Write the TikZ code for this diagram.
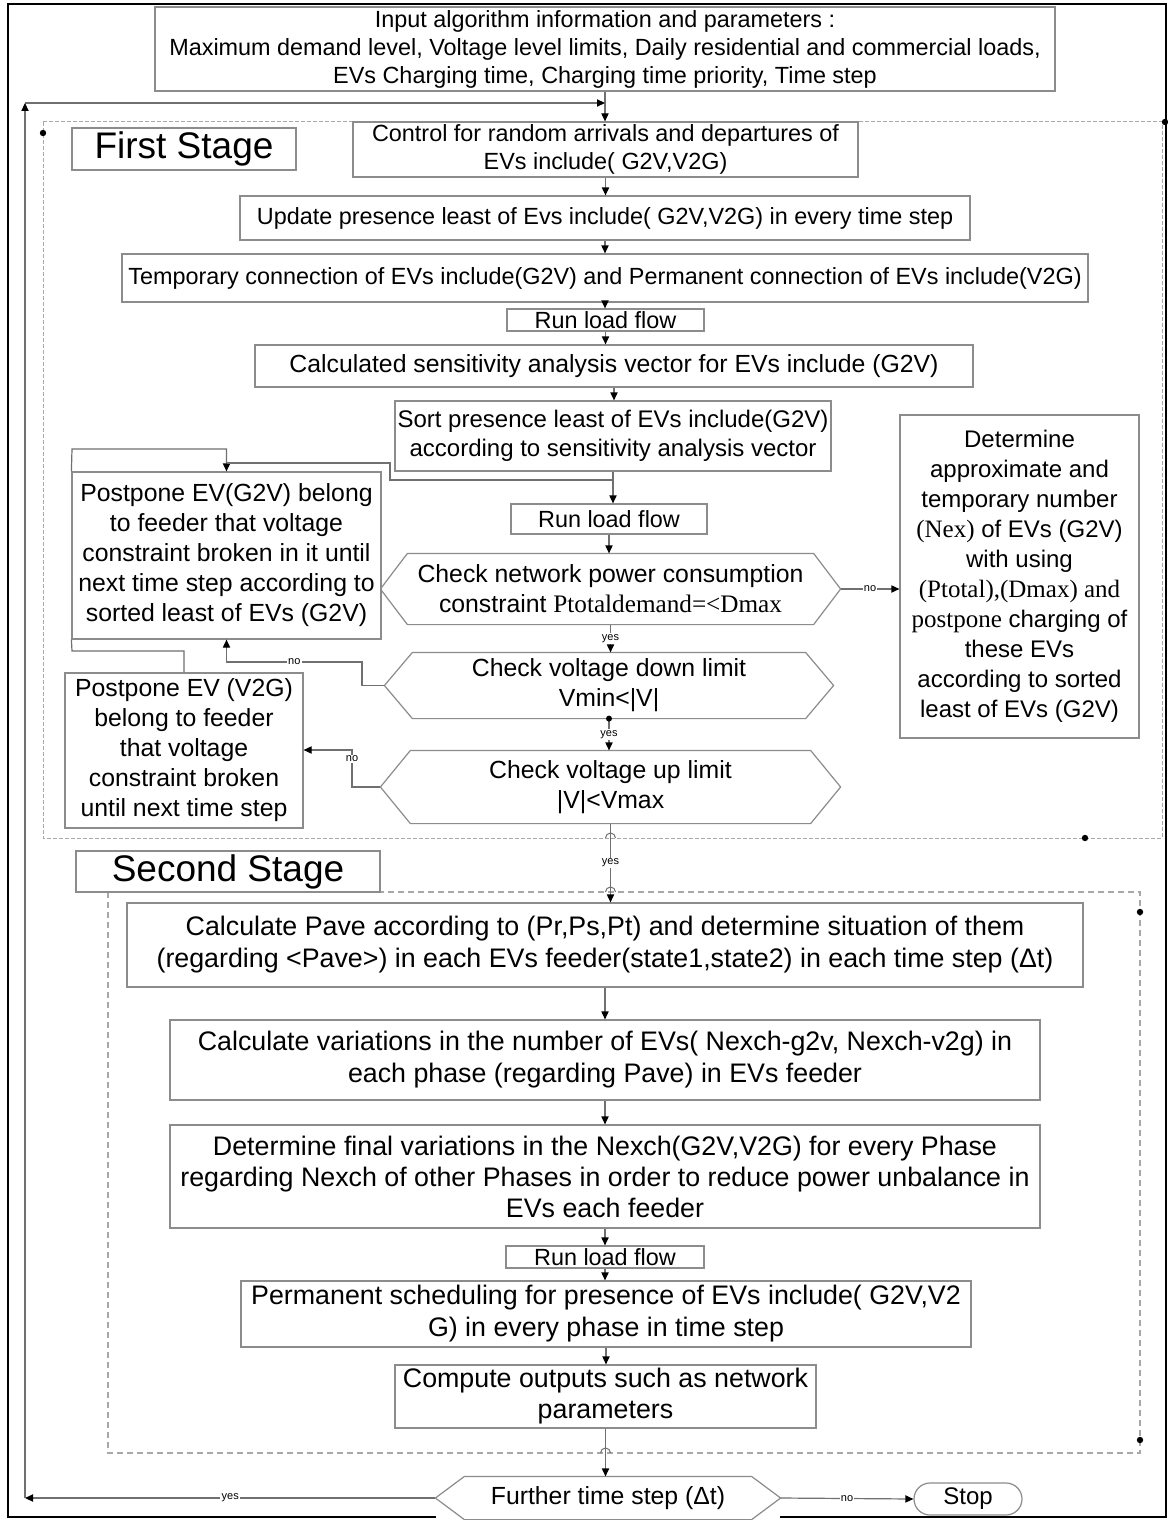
\documentclass[tikz,border=0pt]{standalone}
\usepackage{fontspec}
\setmainfont{Liberation Sans}
\newfontfamily\serifx{Liberation Serif}
\usetikzlibrary{arrows.meta}
\definecolor{boxgray}{HTML}{8C8C8C}
\definecolor{linegray}{HTML}{707070}
\definecolor{dashgray}{HTML}{A8A8A8}
\newcommand\bx[7][]{\node[pb,minimum width={(#5-#3)*0.5pt},minimum height={(#6-#4)*0.5pt},#1] (#2) at ({(#3+#5)/2},{(#4+#6)/2}) {#7};}
\newcommand\hx[8][]{\node[pb,draw=none,minimum width={(#5-#3)*0.5pt},minimum height={(#6-#4)*0.5pt},#1] (#2) at ({(#3+#5)/2},{(#4+#6)/2}) {#8};
 \draw[boxline] (#2.west) -- ([xshift=#7]#2.north west) -- ([xshift=-#7]#2.north east) -- (#2.east) -- ([xshift=-#7]#2.south east) -- ([xshift=#7]#2.south west) -- cycle;}
\begin{document}
\begin{tikzpicture}[x=0.5pt,y=-0.5pt,
 pb/.style={draw=boxgray,line width=0.6pt,fill=white,align=center,inner sep=0pt,font=\fontsize{12.4}{15}\selectfont},
 sm/.style={font=\fontsize{11.7}{14}\selectfont},
 big/.style={font=\fontsize{13.4}{16}\selectfont},
 boxline/.style={draw=boxgray,line width=0.6pt},
 con/.style={draw=linegray,line width=0.6pt},
 arr/.style={con,-{Triangle[length=4pt,width=3.6pt,color=black]}},
 lbl/.style={font=\fontsize{5.5}{6}\selectfont,fill=white,inner sep=0.6pt},
 short/.style={text height=8.4pt,text depth=0pt}]
\useasboundingbox (0,0) rectangle (1167,1520);
\fill[white] (0,0) rectangle (1167,1520);
\draw[black,line width=1pt] (8,4) rectangle (1166,1517);
% stage frames
\draw[dashgray,line width=0.5pt,dash pattern=on 2pt off 1pt] (43,122) rectangle (1162,838);
\draw[dashgray,line width=0.6pt,dash pattern=on 3pt off 2pt] (108,892) rectangle (1140,1453);
\fill (43,133) circle (1.6pt);
\fill (1165,122) circle (1.6pt);
\fill (1085,838) circle (1.6pt);
\fill (1140,912) circle (1.6pt);
\fill (1140,1440) circle (1.6pt);
% boxes
\bx[sm]{inp}{155}{7}{1055}{91}{Input algorithm information and parameters :\\Maximum demand level, Voltage level limits, Daily residential and commercial loads,\\EVs Charging time, Charging time priority, Time step}
\bx[font=\fontsize{18.5}{20}\selectfont]{fs}{72}{128}{296}{170}{First Stage}
\bx[sm]{ctl}{353}{122}{858}{177}{Control for random arrivals and departures of\\EVs include( G2V,V2G)}
\bx[sm]{upd}{240}{196}{970}{240}{Update presence least of Evs include( G2V,V2G) in every time step}
\bx[sm]{tmp}{122}{254}{1088}{302}{Temporary connection of EVs include(G2V) and Permanent connection of EVs include(V2G)}
\bx[sm,short]{rl1}{507}{309}{704}{331}{Run load flow}
\bx{cal}{255}{345}{973}{387}{Calculated sensitivity analysis vector for EVs include (G2V)}
\bx[font=\fontsize{12}{14.5}\selectfont]{srt}{395}{401}{831}{471}{Sort presence least of EVs include(G2V)\\according to sensitivity analysis vector}
\bx[sm,short]{rl2}{511}{504}{707}{534}{Run load flow}
\hx{net}{381}{554}{840}{624}{13.5pt}{Check network power consumption\\constraint {\serifx\fontsize{12.6}{15}\selectfont Ptotaldemand=<Dmax}}
\hx{dwn}{385}{653}{833}{718}{14pt}{Check voltage down limit\\Vmin<|V|}
\hx{up}{381}{751}{840}{823}{15pt}{Check voltage up limit\\|V|<Vmax}
\bx{g2v}{72}{472}{381}{639}{Postpone EV(G2V) belong\\to feeder that voltage\\constraint broken in it until\\next time step according to\\sorted least of EVs (G2V)}
\bx{v2g}{65}{673}{303}{828}{Postpone EV (V2G)\\belong to feeder\\that voltage\\constraint broken\\until next time step}
\bx[font=\fontsize{12}{15}\selectfont]{det}{900}{415}{1139}{738}{Determine\\approximate and\\temporary number\\{\serifx\fontsize{12.5}{15}\selectfont (Nex)} of EVs (G2V)\\with using\\{\serifx\fontsize{12.5}{15}\selectfont (Ptotal),(Dmax) and}\\{\serifx\fontsize{12.5}{15}\selectfont postpone} charging of\\these EVs\\according to sorted\\least of EVs (G2V)}
\bx[font=\fontsize{18.5}{20}\selectfont]{ss}{76}{851}{380}{892}{Second Stage}
\bx[big]{cp}{127}{903}{1083}{987}{Calculate Pave according to (Pr,Ps,Pt) and determine situation of them\\(regarding <Pave>) in each EVs feeder(state1,state2) in each time step (Δt)}
\bx[big]{var}{170}{1020}{1040}{1100}{Calculate variations in the number of EVs( Nexch-g2v, Nexch-v2g) in\\each phase (regarding Pave) in EVs feeder}
\bx[font=\fontsize{13.4}{15.5}\selectfont]{fin}{170}{1125}{1040}{1228}{Determine final variations in the Nexch(G2V,V2G) for every Phase\\regarding Nexch of other Phases in order to reduce power unbalance in\\EVs each feeder}
\bx[sm,short]{rl3}{506}{1246}{704}{1268}{Run load flow}
\bx[big]{prm}{241}{1281}{971}{1347}{Permanent scheduling for presence of EVs include( G2V,V2\\G) in every phase in time step}
\bx[font=\fontsize{13.4}{15.5}\selectfont]{cmp}{395}{1365}{816}{1428}{Compute outputs such as network\\parameters}
\hx{fur}{436}{1477}{780}{1519}{14.5pt}{Further time step (Δt)}
\bx[font=\fontsize{12}{15}\selectfont,rounded corners=8pt]{stp}{914}{1483}{1022}{1515}{Stop}
% connectors main flow
\draw[arr] (inp.south) -- (inp.south |- ctl.north);
\coordinate (lt) at (25,103);
\coordinate (lb) at (25,1498);
\draw[arr] (lt) -- (inp.south |- lt);
\draw[arr] (fur.west) -- node[lbl]{yes} (lb);
\draw[arr] (lb) -- (lt);
\draw[arr] (ctl.south) -- (ctl.south |- upd.north);
\draw[arr] (upd.south) -- (upd.south |- tmp.north);
\draw[arr] (tmp.south) -- (tmp.south |- rl1.north);
\draw[arr] (rl1.south) -- (rl1.south |- cal.north);
\draw[arr] (cal.south) -- (cal.south |- srt.north);
\draw[arr] (srt.south) -- (srt.south |- rl2.north);
\draw[arr] (rl2.south) -- (rl2.south |- net.north);
\draw[arr] (net.south) -- node[lbl]{yes} (net.south |- dwn.north);
\draw[arr] (dwn.south) -- node[lbl]{yes} (dwn.south |- up.north);
\fill (dwn.south) circle (1.5pt);
\draw[arr] (up.south) -- node[lbl,pos=0.5]{yes} (up.south |- cp.north);
\draw[arr] (net.east) -- node[lbl]{no} (net.east -| det.west);
\coordinate (d1) at (362,662);
\draw[arr] (dwn.west) -| (d1) -- node[lbl]{no} (d1 -| g2v.south) -- (g2v.south);
\coordinate (u1) at (352,750);
\draw[arr] (up.west) -| node[lbl,pos=0.88]{no} (u1) -- (u1 -| v2g.east);
\coordinate (c1) at (72,651);
\draw[con] (v2g.north) |- (c1) -- (g2v.south west);
\coordinate (c2) at (72,449);
\draw[arr] (g2v.north west) -- (c2) -| (g2v.north);
\coordinate (c3) at (390,463);
\coordinate (c4) at (390,480);
\draw[con] (g2v.north |- c3) -- (c3) -- (c4) -- (c4 -| srt.south);
% second stage
\draw[arr] (cp.south) -- (cp.south |- var.north);
\draw[arr] (var.south) -- (var.south |- fin.north);
\draw[arr] (fin.south) -- (fin.south |- rl3.north);
\draw[arr] (rl3.south) -- (rl3.south |- prm.north);
\draw[arr] (prm.south) -- (prm.south |- cmp.north);
\draw[arr] (cmp.south) -- (cmp.south |- fur.north);
\draw[arr] (fur.east) -- node[lbl]{no} (stp.west);
% hops over frame lines
\draw[linegray,line width=0.5pt] (605.5,838) arc[start angle=180,end angle=0,radius=2.5pt];
\draw[linegray,line width=0.5pt] (605.5,892) arc[start angle=180,end angle=0,radius=2.5pt];
\draw[linegray,line width=0.5pt] (600.5,1453) arc[start angle=180,end angle=0,radius=2.5pt];
\end{tikzpicture}
\end{document}
